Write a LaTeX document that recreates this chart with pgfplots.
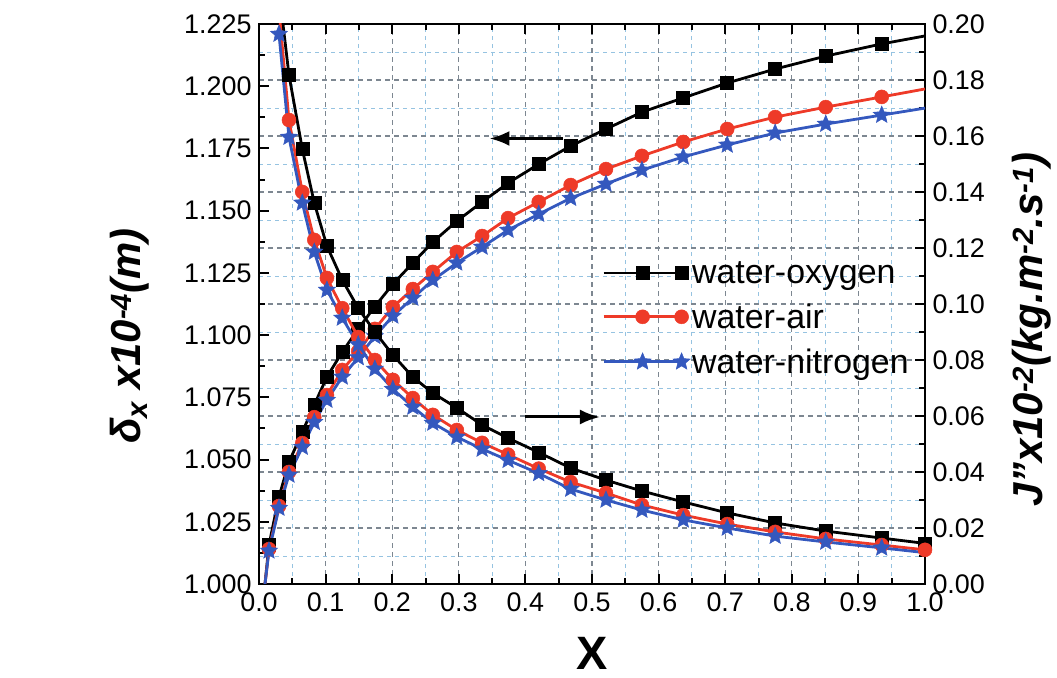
\documentclass[border=0pt]{standalone}
\usepackage{pgfplots}
\pgfplotsset{compat=1.18}
\usepackage{pgfplotstable}
\usepackage{fontspec}
\setmainfont{Liberation Sans}
\usetikzlibrary{arrows.meta}
\definecolor{cred}{RGB}{238,58,40}
\definecolor{cblue}{RGB}{52,88,190}
\definecolor{gmaj}{RGB}{125,135,145}
\definecolor{gmin}{RGB}{150,195,225}

\pgfdeclareplotmark{fstar}{%
  \pgfpathmoveto{\pgfpointpolar{90}{\pgfplotmarksize}}%
  \pgfpathlineto{\pgfpointpolar{126}{0.45\pgfplotmarksize}}%
  \pgfpathlineto{\pgfpointpolar{162}{\pgfplotmarksize}}%
  \pgfpathlineto{\pgfpointpolar{198}{0.45\pgfplotmarksize}}%
  \pgfpathlineto{\pgfpointpolar{234}{\pgfplotmarksize}}%
  \pgfpathlineto{\pgfpointpolar{270}{0.45\pgfplotmarksize}}%
  \pgfpathlineto{\pgfpointpolar{306}{\pgfplotmarksize}}%
  \pgfpathlineto{\pgfpointpolar{342}{0.45\pgfplotmarksize}}%
  \pgfpathlineto{\pgfpointpolar{18}{\pgfplotmarksize}}%
  \pgfpathlineto{\pgfpointpolar{54}{0.45\pgfplotmarksize}}%
  \pgfpathclose
  \pgfusepathqfillstroke}

% film thickness delta_x x10^-4 (m) -- left axis
\pgfplotstableread{
x     black  red    blue
0.009 1.0000 1.0000 1.0000
0.015 1.0157 1.0140 1.0133
0.030 1.0350 1.0313 1.0305
0.045 1.0490 1.0450 1.0438
0.065 1.0610 1.0566 1.0550
0.083 1.0720 1.0670 1.0650
0.102 1.0832 1.0759 1.0739
0.125 1.0932 1.0860 1.0832
0.149 1.1025 1.0935 1.0910
0.174 1.1115 1.1025 1.0995
0.201 1.1205 1.1113 1.1077
0.231 1.1290 1.1185 1.1149
0.261 1.1374 1.1254 1.1221
0.297 1.1458 1.1334 1.1290
0.335 1.1535 1.1398 1.1354
0.374 1.1611 1.1470 1.1422
0.420 1.1687 1.1535 1.1486
0.468 1.1760 1.1603 1.1550
0.521 1.1828 1.1667 1.1607
0.575 1.1896 1.1720 1.1663
0.637 1.1953 1.1776 1.1716
0.703 1.2013 1.1828 1.1764
0.775 1.2069 1.1876 1.1812
0.851 1.2121 1.1916 1.1848
0.935 1.2170 1.1957 1.1884
1.000 1.2202 1.1989 1.1912
}\incr

% mass flux J'' x10^-2 -- right axis
\pgfplotstableread{
x     black  red    blue
0.030 0.2120 0.2050 0.1964
0.045 0.1818 0.1657 0.1596
0.065 0.1554 0.1400 0.1361
0.083 0.1361 0.1229 0.1186
0.102 0.1207 0.1093 0.1050
0.125 0.1086 0.0985 0.0950
0.149 0.0985 0.0882 0.0855
0.174 0.0900 0.0800 0.0768
0.201 0.0818 0.0729 0.0696
0.231 0.0739 0.0664 0.0632
0.261 0.0682 0.0604 0.0575
0.297 0.0629 0.0550 0.0525
0.335 0.0568 0.0504 0.0482
0.374 0.0521 0.0462 0.0442
0.420 0.0470 0.0412 0.0395
0.468 0.0414 0.0364 0.0339
0.521 0.0371 0.0325 0.0300
0.575 0.0332 0.0282 0.0264
0.637 0.0293 0.0246 0.0229
0.703 0.0254 0.0214 0.0200
0.775 0.0218 0.0186 0.0171
0.851 0.0189 0.0161 0.0150
0.935 0.0164 0.0139 0.0129
1.000 0.0145 0.0122 0.0112
}\decr

\pgfplotsset{
  myaxis/.style={
    set layers,
    scale only axis, width=666bp, height=560bp,
    at={(0bp,0bp)}, anchor=south west,
    xmin=0, xmax=1,
    axis line style={line width=2.7bp},
    tick style={line width=2bp, black},
    major tick length=10bp, minor tick length=6bp,
    tick align=inside,
    /pgf/number format/assume math mode=true,
    major grid style={dash pattern=on 5bp off 4bp, gmaj, line width=1.1bp},
    minor grid style={dash pattern=on 4bp off 4bp, gmin, line width=0.9bp},
  },
  lblack/.style={black, line width=2.8bp, mark=square*, mark size=6.5bp, mark options={solid, fill=black, line width=0.5bp}},
  lred/.style={cred, line width=2.8bp, mark=*, mark size=7bp, mark options={solid, fill=cred, line width=0.5bp}},
  lblue/.style={cblue, line width=2.8bp, mark=fstar, mark size=9bp, mark options={solid, fill=cblue, line width=0.5bp}},
}

\begin{document}
\begin{tikzpicture}
\begin{axis}[myaxis,
  ymin=1.0, ymax=1.225,
  ytick={1.000,1.025,1.050,1.075,1.100,1.125,1.150,1.175,1.200,1.225},
  yticklabel style={font=\fontsize{27}{30}\selectfont, /pgf/number format/fixed, /pgf/number format/fixed zerofill, /pgf/number format/precision=3, xshift=-4bp},
  xtick={0,0.1,0.2,0.3,0.4,0.5,0.6,0.7,0.8,0.9,1.0},
  xticklabel style={font=\fontsize{27}{30}\selectfont, /pgf/number format/fixed, /pgf/number format/fixed zerofill, /pgf/number format/precision=1, yshift=-5bp},
  minor x tick num=1, minor y tick num=1,
  ytick pos=left, xtick pos=both,
  xmajorgrids, xminorgrids,
  xlabel={X},
  xlabel style={font=\fontsize{47}{50}\selectfont\bfseries, inner sep=0pt, at={(axis description cs:0.5,-0.124)}, anchor=center},
  ylabel={δ\textsubscript{x} x10\textsuperscript{-4}(m)},
  ylabel style={font=\fontsize{42}{46}\selectfont\bfseries\itshape, at={(axis description cs:-0.194,0.443)}, anchor=center},
  legend style={at={(axis description cs:0.515,0.58)}, anchor=north west, draw=none, fill=none,
    font=\fontsize{34}{37}\selectfont, inner sep=0pt, row sep=15bp,
    nodes={inner sep=2bp}},
  legend cell align=left,
  legend image code/.code={\draw[mark repeat=2,mark phase=2] plot coordinates {(0bp,0bp) (39bp,0bp) (78bp,0bp)};},
]
\addplot[lblack, mark indices={2,...,25}] table[x=x, y=black] {\incr};
\addlegendentry{water-oxygen}
\addplot[lred, mark indices={2,...,25}] table[x=x, y=red] {\incr};
\addlegendentry{water-air}
\addplot[lblue, mark indices={2,...,25}] table[x=x, y=blue] {\incr};
\addlegendentry{water-nitrogen}
\draw[line width=3bp, -{Latex[length=20bp,width=15bp]}] (axis cs:0.457,1.1790) -- (axis cs:0.346,1.1790);
\draw[line width=3bp, -{Latex[length=20bp,width=15bp]}] (axis cs:0.400,1.0671) -- (axis cs:0.512,1.0671);
\end{axis}
\begin{axis}[myaxis,
  axis x line=none, axis y line*=right,
  ymin=0, ymax=0.2,
  ytick={0,0.02,0.04,0.06,0.08,0.10,0.12,0.14,0.16,0.18,0.20},
  yticklabel style={font=\fontsize{27}{30}\selectfont, /pgf/number format/fixed, /pgf/number format/fixed zerofill, /pgf/number format/precision=2, xshift=4bp},
  minor y tick num=1,
  ymajorgrids, yminorgrids,
  ylabel={J"x10\textsuperscript{-2}(kg.m\textsuperscript{-2}.s\textsuperscript{-1})},
  ylabel style={font=\fontsize{42}{46}\selectfont\bfseries\itshape, at={(axis description cs:1.16,0.454)}, anchor=center},
]
\addplot[lblack, mark indices={1,...,23}] table[x=x, y=black] {\decr};
\addplot[lred, mark indices={1,...,23}] table[x=x, y=red] {\decr};
\addplot[lblue, mark indices={1,...,23}] table[x=x, y=blue] {\decr};
\end{axis}
\pgfresetboundingbox
\useasboundingbox (-259bp,-94bp) rectangle (798bp,584bp);
\end{tikzpicture}
\end{document}
